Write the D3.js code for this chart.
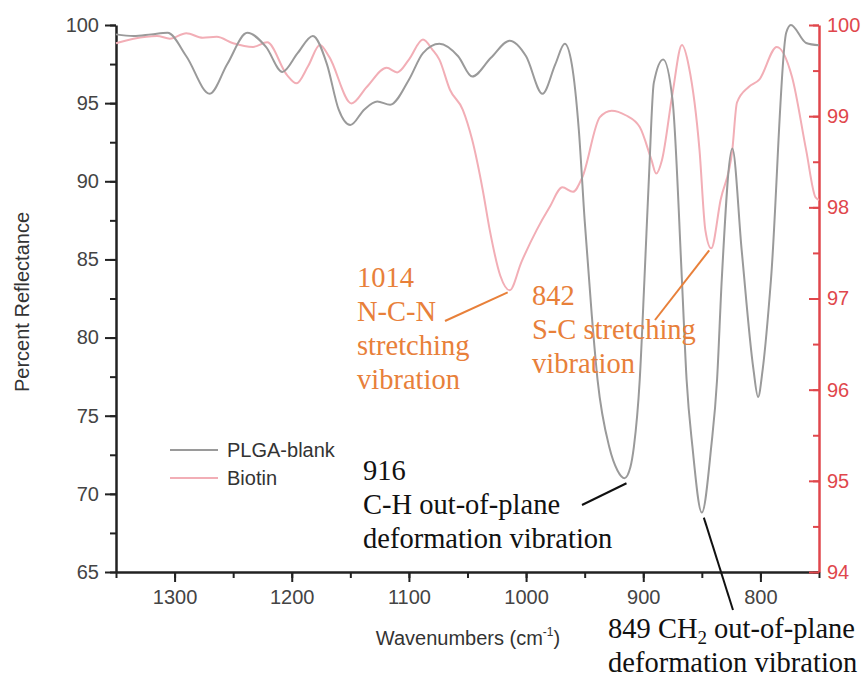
<html>

<head>
    <title>FTIR reflectance</title>
    <script src="https://d3js.org/d3.v7.min.js"></script>
    <style>
        body { margin: 0; background: #fff; }
        text { font-family: "Liberation Sans", Arial, sans-serif; }
        .note { font-family: "Liberation Serif", "Times New Roman", serif; font-size: 28.5px; }
        .ax line, .ax path { stroke: #222; stroke-width: 2; }
        .ax .domain { stroke-width: 2.5; }
        .ax text { font-size: 20px; fill: #444; }
        .ax.red line, .ax.red path { stroke: #e0474c; }
        .ax.red text { fill: #e0474c; }
    </style>
</head>

<body>
    <script>
        // PLGA-blank, read against the left axis
        const plgaWn = [1350, 1335, 1320, 1306, 1290, 1270, 1255, 1238, 1222, 1208, 1195, 1182, 1170, 1160, 1150,
            1138, 1127, 1116, 1100, 1088, 1074, 1058, 1046, 1030, 1014, 1000, 986, 975, 967, 961,
            955, 950, 944, 939, 929, 922, 916, 911, 908, 903, 899, 895, 891, 883, 875,
            867, 863, 858, 850, 842, 837, 833, 824, 816, 806, 802, 798, 791, 778,
            774, 761, 750]
        const plgaVal = [99.4, 99.3, 99.4, 99.5, 98.0, 95.6, 97.5, 99.5, 98.6, 97.0, 98.2, 99.3, 97.5, 94.6, 93.6,
            94.6, 95.1, 94.9, 96.5, 98.2, 98.8, 98.0, 96.7, 97.9, 99.0, 98.0, 95.6, 97.5, 98.8, 97.5,
            93.3, 87.5, 81.5, 77.3, 73.0, 71.5, 71.0, 71.7, 73.0, 77.3, 83.7, 90.5, 96.3, 97.8, 95.2,
            83.7, 77.3, 73.0, 68.8, 73.0, 77.3, 83.7, 92.1, 85.6, 78.0, 76.2, 78.0, 83.7, 99.5,
            100.0, 98.85, 98.7]

        // Biotin, read against the right axis
        const biotinWn = [1350, 1335, 1315, 1304, 1290, 1276, 1264, 1250, 1233, 1221, 1204, 1196, 1186, 1176, 1168,
            1149, 1136, 1119, 1110, 1100, 1088, 1080, 1074, 1065, 1054, 1046, 1037, 1031, 1022, 1014,
            1004, 991, 980, 969, 960, 952, 937, 927, 915, 903, 893, 889, 884, 875, 867,
            861, 852, 847, 842, 834, 824, 820, 810, 801, 786, 773, 761, 753, 750]
        const biotinVal = [99.80, 99.85, 99.88, 99.85, 99.91, 99.86, 99.87, 99.80, 99.76, 99.81, 99.45, 99.36, 99.55, 99.78, 99.65,
            99.14, 99.32, 99.53, 99.48, 99.62, 99.84, 99.73, 99.62, 99.29, 99.07, 98.74, 98.19, 97.75, 97.25, 97.09,
            97.40, 97.75, 98.00, 98.22, 98.17, 98.33, 98.99, 99.06, 99.01, 98.88, 98.52, 98.37, 98.52, 99.25, 99.78,
            99.54, 98.63, 97.75, 97.55, 98.08, 98.63, 99.15, 99.32, 99.40, 99.76, 99.43, 98.63, 98.11, 98.08]

        const xTicks = [1300, 1200, 1100, 1000, 900, 800]
        const leftTicks = [65, 70, 75, 80, 85, 90, 95, 100]
        const rightTicks = [94, 95, 96, 97, 98, 99, 100]

        const seriesNames = ['PLGA-blank', 'Biotin']
        const seriesColors = ['#9a9a9a', '#f2aeb6']

        const notes = [
            { wn: 1014, series: 1, lines: ['1014', 'N-C-N', 'stretching', 'vibration'] },
            { wn: 842, series: 1, lines: ['842', 'S-C stretching', 'vibration'] },
            { wn: 916, series: 0, lines: ['916', 'C-H out-of-plane', 'deformation vibration'] },
            { wn: 849, series: 0, lines: ['849 CH|2| out-of-plane', 'deformation vibration'] }
        ]

        const width = 863, height = 679
        const mLeft = 116, mRight = 819, mTop = 25, mBottom = 572

        const svg = d3.select('body').append('svg')
            .attr('width', width)
            .attr('height', height)

        const x = d3.scaleLinear().domain([1350, 750]).range([mLeft, mRight])
        const yL = d3.scaleLinear().domain([65, 100]).range([mBottom, mTop])
        const yR = d3.scaleLinear().domain([94, 100]).range([mBottom, mTop])

        // minor ticks
        svg.append('g').attr('class', 'ax')
            .attr('transform', 'translate(0,' + mBottom + ')')
            .call(d3.axisBottom(x).tickValues(d3.range(1350, 749, -50)).tickSize(6).tickFormat(''))
            .call(g => g.select('.domain').remove())
        svg.append('g').attr('class', 'ax')
            .attr('transform', 'translate(' + mLeft + ',0)')
            .call(d3.axisLeft(yL).tickValues(d3.range(65, 100.1, 2.5)).tickSize(6).tickFormat(''))
            .call(g => g.select('.domain').remove())
        svg.append('g').attr('class', 'ax red')
            .attr('transform', 'translate(' + mRight + ',0)')
            .call(d3.axisRight(yR).tickValues(d3.range(94, 100.1, 0.5)).tickSize(-6).tickFormat(''))
            .call(g => g.select('.domain').remove())

        // major ticks + labels
        svg.append('g').attr('class', 'ax')
            .attr('transform', 'translate(0,' + mBottom + ')')
            .call(d3.axisBottom(x).tickValues(xTicks).tickFormat(d3.format('d'))
                .tickSize(10).tickPadding(8).tickSizeOuter(0))
        svg.append('g').attr('class', 'ax')
            .attr('transform', 'translate(' + mLeft + ',0)')
            .call(d3.axisLeft(yL).tickValues(leftTicks).tickFormat(d3.format('d'))
                .tickSize(11).tickPadding(6).tickSizeOuter(0))
        svg.append('g').attr('class', 'ax red')
            .attr('transform', 'translate(' + mRight + ',0)')
            .call(d3.axisRight(yR).tickValues(rightTicks).tickFormat(d3.format('d'))
                .tickSize(-10).tickPadding(8).tickSizeOuter(0))

        // curves
        const lineL = d3.line().x(d => x(d[0])).y(d => yL(d[1])).curve(d3.curveMonotoneX)
        const lineR = d3.line().x(d => x(d[0])).y(d => yR(d[1])).curve(d3.curveMonotoneX)

        svg.append('path')
            .datum(d3.zip(biotinWn, biotinVal))
            .attr('fill', 'none')
            .attr('stroke', seriesColors[1])
            .attr('stroke-width', 2)
            .attr('d', lineR)

        svg.append('path')
            .datum(d3.zip(plgaWn, plgaVal))
            .attr('fill', 'none')
            .attr('stroke', seriesColors[0])
            .attr('stroke-width', 2)
            .attr('d', lineL)

        // axis titles
        const xt = svg.append('text')
            .attr('x', 468).attr('y', 645)
            .attr('text-anchor', 'middle')
            .attr('font-size', 20).attr('fill', '#333')
        xt.append('tspan').text('Wavenumbers (cm')
        xt.append('tspan').attr('font-size', 12).attr('dy', -9).text('-1')
        xt.append('tspan').attr('dy', 9).text(')')

        svg.append('text')
            .attr('transform', 'translate(29,302) rotate(-90)')
            .attr('text-anchor', 'middle')
            .attr('font-size', 20).attr('fill', '#333')
            .text('Percent Reflectance')

        // legend
        seriesNames.forEach((name, i) => {
            svg.append('line')
                .attr('x1', 170).attr('x2', 218)
                .attr('y1', 450 + i * 28).attr('y2', 450 + i * 28)
                .attr('stroke', seriesColors[i]).attr('stroke-width', 2)
            svg.append('text')
                .attr('x', 227).attr('y', 457 + i * 28)
                .attr('font-size', 20).attr('fill', '#333')
                .text(name)
        })

        // annotations
        const orange = '#e8803a'
        const layout = [
            { tx: 357, ty: 287, color: orange, from: [445, 321] },
            { tx: 532, ty: 305, color: orange, from: [655, 320] },
            { tx: 363, ty: 480, color: '#111', from: [582, 505] },
            { tx: 608, ty: 638, color: '#111', from: [733, 610] }
        ]

        notes.forEach((n, i) => {
            const L = layout[i]
            const wn = n.series === 0 ? plgaWn : biotinWn
            const vals = n.series === 0 ? plgaVal : biotinVal
            // nearest sampled point to the labelled peak
            const k = d3.minIndex(wn, w => Math.abs(w - n.wn))
            const px = x(wn[k])
            const py = n.series === 0 ? yL(vals[k]) : yR(vals[k])
            svg.append('line')
                .attr('x1', L.from[0]).attr('y1', L.from[1])
                .attr('x2', px + (n.series === 0 ? 2 : -2)).attr('y2', py + (n.series === 0 ? 5 : 2))
                .attr('stroke', L.color).attr('stroke-width', 2)

            const t = svg.append('text').attr('class', 'note').attr('fill', L.color)
            n.lines.forEach((line, j) => {
                const parts = line.split('|')
                t.append('tspan').attr('x', L.tx).attr('y', L.ty + j * 34).text(parts[0])
                if (parts.length > 1) {
                    t.append('tspan').attr('font-size', 19).attr('dy', 6).text(parts[1])
                    t.append('tspan').attr('dy', -6).text(parts[2])
                }
            })
        })
    </script>
</body>

</html>
